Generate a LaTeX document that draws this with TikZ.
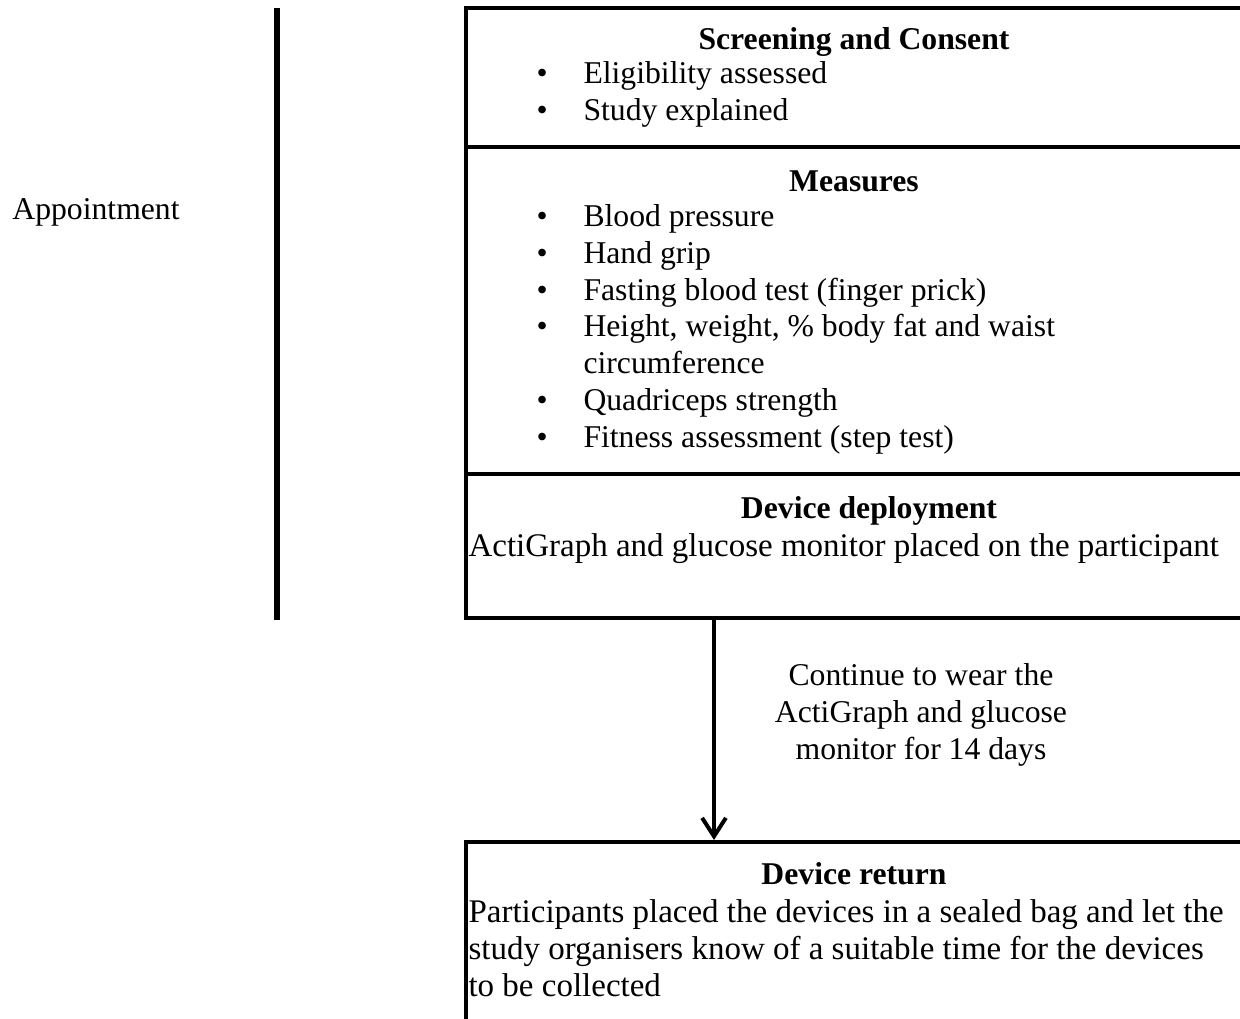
\documentclass[tikz,border=0pt]{standalone}
\usepackage{fontspec}
\setmainfont{Liberation Serif}
\usetikzlibrary{positioning}
\usetikzlibrary{arrows.meta}
\usetikzlibrary{fit}
\tikzset{every node/.style={ % Sets the text for every node
inner sep=0pt,
font=\fontsize{12}{13.9}\selectfont},
stage/.style={ % Box of one stage of the visit
draw,
line width=1.5pt},
title/.style={anchor=base, font=\fontsize{12}{13.9}\selectfont\bfseries},
body/.style={anchor=north west, align=left},
wide/.style={font=\fontsize{12.5}{13.9}\selectfont},
flow/.style={ % Sets the arrow between stages
draw,
line width=1.5pt,
-{Straight Barb[length=7pt,width=9pt,line width=1.5pt]}}}
\newcommand{\itm}[1]{\makebox[17.8pt][l]{\textbullet}#1}

\begin{document}
\begin{tikzpicture}[x=0.3788pt,y=-0.3788pt]
\useasboundingbox (0,0) rectangle (1240,1019);
\clip (0,0) rectangle (1240,1019);
% appointment bar
\node[anchor=base] (appt) at (96,220) {Appointment};
\coordinate (bartop) at (277,8);
\coordinate (barbot) at (277,620);
\draw[line width=2.5pt] (bartop) -- (barbot);
% stages
\node[stage, fit={(466,8) (1246,147)}] (screen) {};
\node[stage, fit={(466,147) (1246,474)}] (measures) {};
\node[stage, fit={(466,474) (1246,618)}] (deploy) {};
\node[stage, fit={(466,842) (1246,1030)}] (ret) {};
\node[title] (screent) at (854,50) {Screening and Consent};
\node[body] (screenl) at (536,61.4) {\itm{Eligibility assessed}\\ \itm{Study explained}};
\node[title] (measurest) at (854,192) {Measures};
\node[body] (measuresl) at (536,204.4) {\itm{Blood pressure}\\ \itm{Hand grip}\\
\itm{Fasting blood test (finger prick)}\\ \itm{Height, weight, \% body fat and waist}\\
\hspace*{17.8pt}circumference\\ \itm{Quadriceps strength}\\ \itm{Fitness assessment (step test)}};
\node[title] (deployt) at (869,519) {Device deployment};
\node[body, wide] (deployl) at (468,533) {ActiGraph and glucose monitor placed on the participant};
\node[title] (rett) at (854,885) {Device return};
\node[body, wide] (retl) at (468,899.4) {Participants placed the devices in a sealed bag and let the\\
study organisers know of a suitable time for the devices\\ to be collected};
% wearing period
\coordinate (arrowx) at (714,0);
\draw[flow] (deploy.south -| arrowx) -- (ret.north -| arrowx);
\node[align=center] (wear) at (921,715) {Continue to wear the\\ ActiGraph and glucose\\ monitor for 14 days};
\end{tikzpicture}
\end{document}
